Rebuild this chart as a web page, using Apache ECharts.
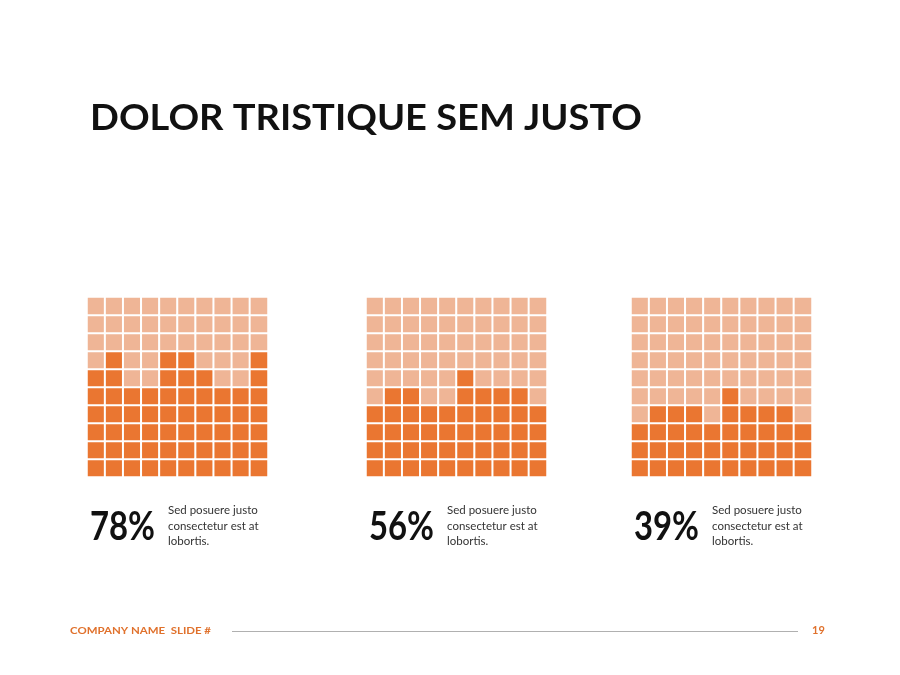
<!DOCTYPE html>
<html>
<head>
<meta charset="utf-8">
<script src="https://cdn.jsdelivr.net/npm/echarts@6/dist/echarts.min.js"></script>
<style>html,body{margin:0;padding:0;background:#fff}#c{width:900px;height:675px}</style>
</head>
<body>
<div id="c"></div>
<script>
// Column heights (filled cells per column, left to right) for each waffle
var fill78 = [6, 7, 5, 5, 7, 7, 6, 5, 5, 7];
var fill56 = [4, 5, 5, 4, 4, 6, 5, 5, 5, 4];
var fill39 = [3, 4, 4, 4, 3, 5, 4, 4, 4, 3];
var percentLabels = ['78%', '56%', '39%'];
var caption = 'Sed posuere justo\nconsectetur est at\nlobortis.';
var cols = ['0','1','2','3','4','5','6','7','8','9'];
var rows = ['0','1','2','3','4','5','6','7','8','9'];
var titleText = 'DOLOR TRISTIQUE SEM JUSTO';
var footerLeft = 'COMPANY NAME  SLIDE #';
var pageNumber = '19';

var DARK = '#ea7631';
var LIGHT = '#efb596';
var ORANGE = '#e0712c';

var fills = [fill78, fill56, fill39];
var gridLefts = [87, 366, 631];

var mctx = document.createElement('canvas').getContext('2d');
function fitScale(text, font, targetWidth) {
  mctx.font = font;
  return targetWidth / mctx.measureText(text).width;
}

function cells(h) {
  var out = [];
  for (var x = 0; x < 10; x++) {
    for (var y = 0; y < 10; y++) {
      out.push([x, y, y < h[x] ? 1 : 0]);
    }
  }
  return out;
}

var PCT_FONT = 'bold 40px Lato, "Noto Sans", sans-serif';
var TITLE_FONT = 'bold 37px Lato, "Noto Sans", sans-serif';
var FOOT_FONT = 'bold 10px Lato, "Noto Sans", sans-serif';

var grids = [], xAxes = [], yAxes = [], series = [], graphics = [];
fills.forEach(function (f, i) {
  grids.push({ left: gridLefts[i], top: 297, width: 181, height: 180 });
  xAxes.push({ type: 'category', data: cols, gridIndex: i, show: false });
  yAxes.push({ type: 'category', data: rows, gridIndex: i, show: false });
  series.push({
    type: 'heatmap', xAxisIndex: i, yAxisIndex: i, data: cells(f),
    itemStyle: { borderColor: '#ffffff', borderWidth: 2 },
    emphasis: { disabled: true }, animation: false
  });
  graphics.push({
    type: 'text', x: gridLefts[i] + 3, y: 507,
    scaleX: fitScale(percentLabels[i], PCT_FONT, 65),
    style: { text: percentLabels[i], font: PCT_FONT, fill: '#111' }
  });
  graphics.push({
    type: 'text', x: gridLefts[i] + 81, y: 503,
    style: { text: caption, font: '11.5px Lato, "Noto Sans", sans-serif', lineHeight: 15.5, fill: '#333' }
  });
});

graphics.push({
  type: 'text', x: 90, y: 100,
  scaleX: fitScale(titleText, TITLE_FONT, 552),
  style: { text: titleText, font: TITLE_FONT, fill: '#111' }
});
graphics.push({
  type: 'text', x: 70, y: 626,
  scaleX: fitScale(footerLeft, FOOT_FONT, 141),
  style: { text: footerLeft, font: FOOT_FONT, fill: ORANGE }
});
graphics.push({
  type: 'line', shape: { x1: 232, y1: 631.5, x2: 798, y2: 631.5 },
  style: { stroke: '#b0b0b0', lineWidth: 1 }
});
graphics.push({
  type: 'text', x: 812, y: 625,
  style: { text: pageNumber, font: 'bold 11px Lato, sans-serif', fill: ORANGE }
});

var chart = echarts.init(document.getElementById('c'), null, { renderer: 'canvas' });
chart.setOption({
  backgroundColor: '#ffffff',
  animation: false,
  grid: grids,
  xAxis: xAxes,
  yAxis: yAxes,
  visualMap: {
    show: false, type: 'piecewise', seriesIndex: [0, 1, 2], dimension: 2,
    pieces: [{ value: 1, color: DARK }, { value: 0, color: LIGHT }]
  },
  series: series,
  graphic: graphics
});
</script>
</body>
</html>
